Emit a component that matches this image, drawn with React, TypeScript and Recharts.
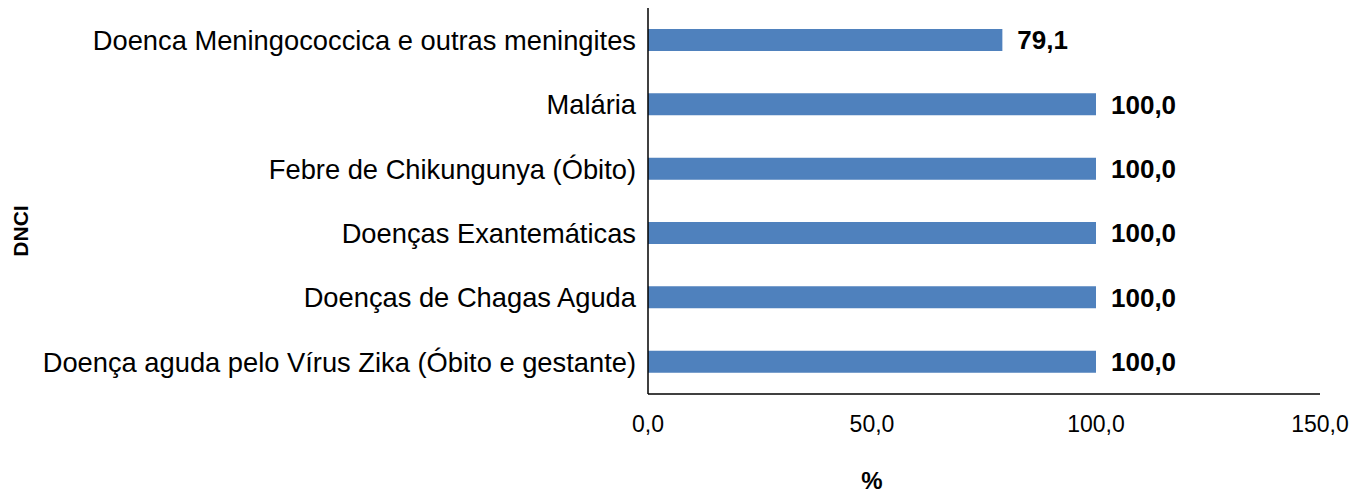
import { BarChart, Bar, XAxis, YAxis, LabelList } from 'recharts'

const categories = [
    'Doenca Meningococcica e outras meningites',
    'Malária',
    'Febre de Chikungunya (Óbito)',
    'Doenças Exantemáticas',
    'Doenças de Chagas Aguda',
    'Doença aguda pelo Vírus Zika (Óbito e gestante)',
]
const percent = [79.1, 100.0, 100.0, 100.0, 100.0, 100.0]
const xTicks = [0, 50, 100, 150]

const data = categories.map((name, i) => ({ name, value: percent[i] }))

const fmt = (v: number) => v.toFixed(1).replace('.', ',')
const font = 'Liberation Sans, Arial, sans-serif'

// axis titles sit where the original put them, not centred on the plot
const DnciLabel = () => (
    <text
        x={20}
        y={231}
        transform="rotate(-90, 20, 231)"
        textAnchor="middle"
        dominantBaseline="central"
        fontFamily={font}
        fontSize={21}
        fontWeight="bold"
        fill="#000"
    >
        DNCI
    </text>
)

const PercentLabel = () => (
    <text
        x={872}
        y={480}
        textAnchor="middle"
        dominantBaseline="central"
        fontFamily={font}
        fontSize={24}
        fontWeight="bold"
        fill="#000"
    >
        %
    </text>
)

export default function App() {
    return (
        <div style={{ position: 'absolute', left: 0, top: 0, background: '#fff' }}>
            <BarChart
                width={1363}
                height={492}
                data={data}
                layout="vertical"
                margin={{ top: 8, right: 43, left: 0, bottom: 0 }}
                barCategoryGap={0}
            >
                <XAxis
                    type="number"
                    domain={[0, 150]}
                    ticks={xTicks}
                    tickFormatter={fmt}
                    height={98}
                    tickLine={false}
                    tickSize={0}
                    tickMargin={22}
                    axisLine={{ stroke: '#000', strokeWidth: 1.5 }}
                    tick={{ fontSize: 23, fill: '#000', fontFamily: font }}
                    label={<PercentLabel />}
                />
                <YAxis
                    type="category"
                    dataKey="name"
                    width={648}
                    tickLine={false}
                    tickSize={0}
                    tickMargin={12}
                    axisLine={{ stroke: '#000', strokeWidth: 1.5 }}
                    tick={{ fontSize: 27.3, fill: '#000', fontFamily: font }}
                    interval={0}
                    label={<DnciLabel />}
                />
                <Bar dataKey="value" fill="#4F81BD" barSize={22} isAnimationActive={false}>
                    <LabelList
                        dataKey="value"
                        position="right"
                        offset={15}
                        formatter={(v: any) => fmt(Number(v))}
                        style={{ fontSize: 26, fontWeight: 'bold', fill: '#000', fontFamily: font }}
                    />
                </Bar>
            </BarChart>
        </div>
    )
}
